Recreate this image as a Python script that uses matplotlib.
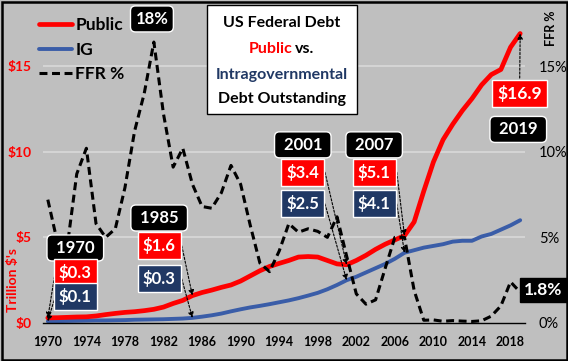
import matplotlib
matplotlib.use("Agg")
import matplotlib.pyplot as plt
from matplotlib.patches import Rectangle

plt.rcParams['font.family'] = ['Lato', 'DejaVu Sans']
plt.rcParams['font.weight'] = 'bold'

# data (trillion $ / percent)
years = list(range(1970, 2020))
public = [0.30, 0.31, 0.33, 0.35, 0.36, 0.41, 0.49, 0.56, 0.62, 0.66,
          0.72, 0.80, 0.93, 1.14, 1.32, 1.60, 1.78, 1.92, 2.08, 2.22,
          2.45, 2.75, 3.05, 3.30, 3.48, 3.65, 3.85, 3.88, 3.85, 3.65,
          3.45, 3.40, 3.65, 3.95, 4.30, 4.60, 4.85, 5.10, 5.90, 7.70,
          9.40, 10.7, 11.6, 12.4, 13.1, 13.9, 14.5, 14.8, 16.1, 16.9]
ig = [0.10, 0.11, 0.12, 0.13, 0.14, 0.15, 0.15, 0.16, 0.17, 0.19,
      0.20, 0.21, 0.22, 0.24, 0.26, 0.30, 0.37, 0.45, 0.55, 0.68,
      0.80, 0.91, 1.00, 1.10, 1.21, 1.32, 1.45, 1.60, 1.76, 1.97,
      2.22, 2.50, 2.70, 2.95, 3.20, 3.45, 3.75, 4.10, 4.25, 4.40,
      4.50, 4.60, 4.75, 4.80, 4.80, 5.05, 5.20, 5.45, 5.70, 6.00]
ffr = [7.2, 4.7, 4.4, 8.7, 10.2, 5.8, 5.0, 5.5, 7.9, 11.2,
       13.4, 16.4, 12.2, 9.1, 10.2, 8.1, 6.8, 6.7, 7.6, 9.2,
       8.1, 5.7, 3.5, 3.0, 4.2, 5.8, 5.3, 5.5, 5.35, 5.0,
       6.2, 3.9, 1.7, 1.1, 1.35, 3.2, 5.0, 5.0, 1.9, 0.16,
       0.18, 0.10, 0.14, 0.11, 0.09, 0.13, 0.40, 1.0, 2.4, 1.8]

xticks = list(range(1970, 2019, 4))
yticks = [0, 5, 10, 15]
left_labels = ['$0', '$5', '$10', '$15']
right_labels = ['0%', '5%', '10%', '15%']

# callouts: year, public value, ig value
callouts = [(1970, '$0.3', '$0.1'), (1985, '$1.6', '$0.3'),
            (2001, '$3.4', '$2.5'), (2007, '$5.1', '$4.1')]

RED = '#FF0000'
BLUE = '#3A5DA8'
NAVY = '#203864'
BG = '#BFBFBF'

W, H = 568, 361
fig = plt.figure(figsize=(W / 100, H / 100), dpi=100, facecolor=BG)
ax = fig.add_axes([43 / W, 1 - 323 / H, 482 / W, 18 * 17.13 / H])
ax.set_facecolor(BG)
ax.set_xlim(1969.5, 2019.5)
ax.set_ylim(0, 18)

for s in ['top', 'right', 'left']:
    ax.spines[s].set_visible(False)
ax.spines['bottom'].set_color('black')
ax.spines['bottom'].set_linewidth(1.0)

for v in yticks[1:]:
    ax.axhline(v, color='#D9D9D9', lw=1.2, zorder=0)

h_ig, = ax.plot(years, ig, color=BLUE, lw=2.8, zorder=2, solid_capstyle='round')
h_pub, = ax.plot(years, public, color=RED, lw=3.4, zorder=3, solid_capstyle='round')
h_ffr, = ax.plot(years, ffr, color='black', lw=2.2, ls=(0, (2.6, 1.5)), zorder=4)

ax.set_xticks(xticks)
ax.set_xticklabels([str(y) for y in xticks], fontsize=9, fontweight='bold')
ax.tick_params(axis='x', length=0, pad=9)
ax.set_yticks(yticks)
ax.set_yticklabels(left_labels, fontsize=10, fontweight='bold', color=RED)
ax.tick_params(axis='y', length=0, pad=8)

ax2 = ax.twinx()
ax2.set_ylim(0, 18)
ax2.set_yticks(yticks)
ax2.set_yticklabels(right_labels, fontsize=10.5, fontweight='normal')
ax2.tick_params(axis='y', length=0, pad=10)
for s in ax2.spines.values():
    s.set_visible(False)

fig.text(13 / W, 1 - 280 / H, "Trillion $'s", rotation=90, color=RED,
         fontsize=10, fontweight='bold', ha='center', va='center')
fig.text(551 / W, 1 - 28 / H, 'FFR %', rotation=90, color='black',
         fontsize=9, fontweight='bold', ha='center', va='center')

# legend
fig.legend([h_pub, h_ig, h_ffr], ['Public', 'IG', 'FFR %'], loc='upper left',
           bbox_to_anchor=(39 / W, 1 - 17 / H), frameon=False,
           prop={'size': 12.5, 'weight': 'bold'}, handlelength=1.9,
           handletextpad=0.2, labelspacing=0.5, borderpad=0, borderaxespad=0)

# title box
fig.patches.append(Rectangle((207 / W, 1 - 114 / H), 150 / W, 109 / H,
                             transform=fig.transFigure, facecolor='white',
                             edgecolor='black', lw=1.0, zorder=5))
tkw = dict(fontsize=11.5, fontweight='bold', va='center', zorder=6)
fig.text(282 / W, 1 - 23 / H, 'US Federal Debt', ha='center', color='black', **tkw)
fig.text(292 / W, 1 - 49 / H, 'Public', ha='right', color=RED, **tkw)
fig.text(295 / W, 1 - 49 / H, 'vs.', ha='left', color='black', **tkw)
fig.text(282 / W, 1 - 75 / H, 'Intragovernmental', ha='center', color=NAVY, **tkw)
fig.text(282 / W, 1 - 99 / H, 'Debt Outstanding', ha='center', color='black', **tkw)


def box(x, y, s, fc, rounded=False, size=12):
    style = 'round,pad=0.3,rounding_size=0.3' if rounded else 'square,pad=0.3'
    ax.text(x, y, s, ha='center', va='center', color='white', fontsize=size,
            fontweight='bold', zorder=7, clip_on=False,
            bbox=dict(boxstyle=style, fc=fc, ec='white', lw=1.0))


def arrow(x0, y0, x1, y1):
    ax.annotate('', xy=(x1, y1), xytext=(x0, y0), zorder=6, annotation_clip=False,
                arrowprops=dict(arrowstyle='-|>', ls=(0, (2, 1.5)), lw=0.8,
                                color='black', shrinkA=0, shrinkB=0,
                                mutation_scale=8))


# callout layout: year box centre, value boxes, arrow start x
layout = {1970: (1972.85, 4.38, 2.92, 1.52, 1970.75),
          1985: (1981.55, 6.13, 4.50, 2.57, 1983.9),
          2001: (1996.45, 10.40, 8.80, 6.95, 1998.75),
          2007: (2003.85, 10.40, 8.80, 6.95, 2006.2)}
for yr, ptxt, itxt in callouts:
    cx, yy, yp, yi, ax0 = layout[yr]
    i = years.index(yr)
    box(cx, yy, ' %d ' % yr, 'black', rounded=True)
    box(cx, yp, ptxt, RED)
    box(cx, yi, itxt, NAVY)
    arrow(ax0, yp, yr, public[i])
    arrow(ax0, yi, yr, ig[i])

box(1980.8, 17.75, '18%', 'black', rounded=True)
box(2018.9, 13.4, '$%.1f' % public[-1], RED, size=12.5)
box(2018.8, 11.3, ' 2019 ', 'black', rounded=True)
arrow(2018.95, 14.3, 2019, public[-1])
ax.text(2021.4, 1.93, '%.1f%%' % ffr[-1], ha='center', va='center', color='white',
        fontsize=12.5, fontweight='bold', zorder=7, clip_on=False,
        bbox=dict(boxstyle='square,pad=0.25', fc='black', ec='black'))

fig.patches.append(Rectangle((1.5 / W, 1.5 / H), (W - 3) / W, (H - 3) / H,
                             transform=fig.transFigure, fill=False,
                             edgecolor='black', lw=1.8, zorder=10))

fig.savefig('out.png', dpi=100, facecolor=BG)
